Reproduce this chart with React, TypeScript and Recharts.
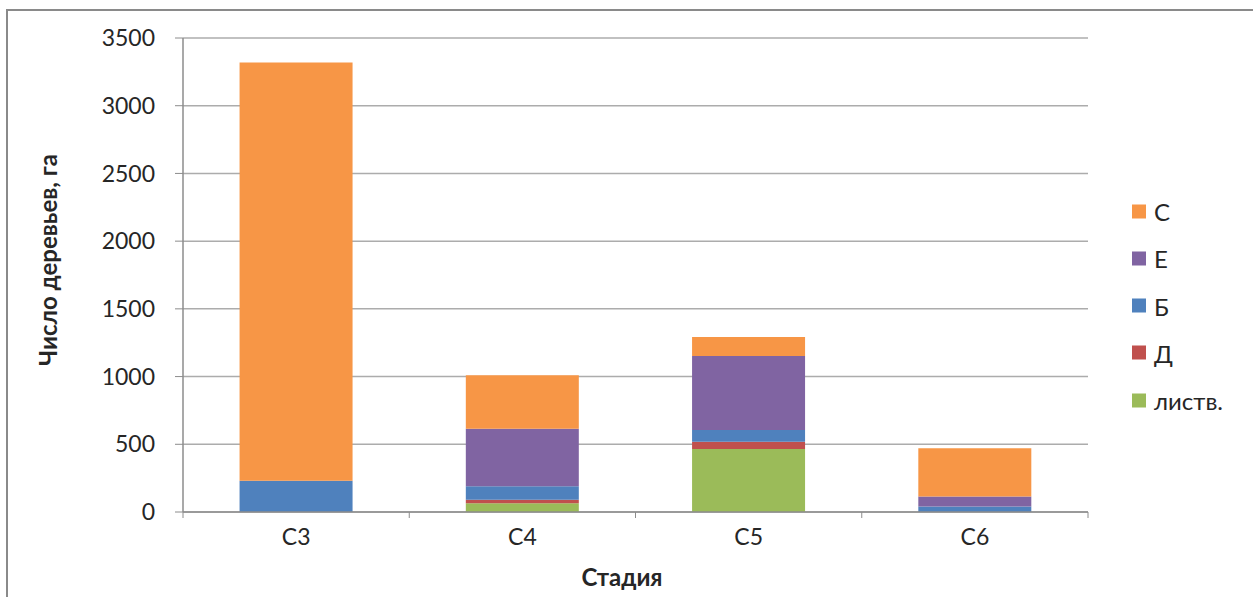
import React from 'react';
import { BarChart, Bar, XAxis, YAxis, CartesianGrid } from 'recharts';

const stages = ['С3', 'С4', 'С5', 'С6'];

// stacked from the bottom up
const listv = [0, 65, 465, 0];
const dub = [0, 25, 54, 0];
const bereza = [230, 100, 86, 40];
const el = [0, 425, 547, 75];
const sosna = [3090, 395, 140, 355];

const yTicks = [0, 500, 1000, 1500, 2000, 2500, 3000, 3500];

const series = [
  { key: 'listv', name: 'листв.', color: '#9BBB59' },
  { key: 'dub', name: 'Д', color: '#C0504D' },
  { key: 'bereza', name: 'Б', color: '#4F81BD' },
  { key: 'el', name: 'Е', color: '#8064A2' },
  { key: 'sosna', name: 'С', color: '#F79646' },
];

const data = stages.map((stage, i) => ({
  stage,
  listv: listv[i],
  dub: dub[i],
  bereza: bereza[i],
  el: el[i],
  sosna: sosna[i],
}));

const W = 1253;
const H = 597;
const PLOT_LEFT = 183;
const PLOT_RIGHT = 1088;
const PLOT_TOP = 38;
const PLOT_BOTTOM = 512;
const BAND = (PLOT_RIGHT - PLOT_LEFT) / stages.length;

const FONT = 'Lato, "Open Sans", sans-serif';
const TEXT = '#262626';
const AXIS = '#8c8c8c';

// category label plus Excel-style tick marks on the band edges
const StageTick = (props: any) => {
  const { x, y, payload, index } = props;
  const left = x - BAND / 2;
  return (
    <g>
      <line x1={left} y1={PLOT_BOTTOM} x2={left} y2={PLOT_BOTTOM + 6} stroke={AXIS} />
      {index === stages.length - 1 && (
        <line x1={x + BAND / 2} y1={PLOT_BOTTOM} x2={x + BAND / 2} y2={PLOT_BOTTOM + 6} stroke={AXIS} />
      )}
      <text x={x} y={y + 25} textAnchor="middle" fill={TEXT} fontSize={23} fontFamily={FONT}>
        {payload.value}
      </text>
    </g>
  );
};

export default function App() {
  const legendItems = [...series].reverse();
  return (
    <div style={{ position: 'absolute', left: 0, top: 0, width: W, height: H, background: '#fff', overflow: 'hidden' }}>
      <div
        style={{
          position: 'absolute',
          left: 6,
          top: 9,
          width: W,
          height: H,
          border: '2px solid #8a8a8a',
          boxSizing: 'border-box',
        }}
      />
      <div style={{ position: 'absolute', left: 0, top: 0 }}>
        <BarChart
          width={W}
          height={H}
          data={data}
          margin={{ top: PLOT_TOP, right: W - PLOT_RIGHT, left: 0, bottom: 0 }}
          barCategoryGap="25%"
        >
          <CartesianGrid vertical={false} stroke="#acacac" strokeWidth={1.5} />
          <XAxis
            dataKey="stage"
            height={H - PLOT_BOTTOM}
            tickLine={false}
            axisLine={{ stroke: AXIS, strokeWidth: 1.5 }}
            tick={<StageTick />}
            interval={0}
          />
          <YAxis
            width={PLOT_LEFT}
            domain={[0, 3500]}
            ticks={yTicks}
            tickSize={8}
            tickMargin={20}
            tickLine={{ stroke: AXIS }}
            axisLine={{ stroke: AXIS, strokeWidth: 1.5 }}
            tick={{ fill: TEXT, fontSize: 23, fontFamily: FONT }}
          />
          {series.map((s) => (
            <Bar key={s.key} dataKey={s.key} name={s.name} stackId="a" fill={s.color} isAnimationActive={false} />
          ))}
        </BarChart>
      </div>
      <div
        style={{
          position: 'absolute',
          left: 47,
          top: 260,
          transform: 'translate(-50%, -50%) rotate(-90deg)',
          whiteSpace: 'nowrap',
          fontFamily: FONT,
          fontWeight: 700,
          fontSize: 24,
          color: TEXT,
        }}
      >
        Число деревьев, га
      </div>
      <div
        style={{
          position: 'absolute',
          left: 622,
          top: 576,
          transform: 'translate(-50%, -50%)',
          whiteSpace: 'nowrap',
          fontFamily: FONT,
          fontWeight: 700,
          fontSize: 24,
          color: TEXT,
        }}
      >
        Стадия
      </div>
      {legendItems.map((s, i) => (
        <div
          key={s.key}
          style={{
            position: 'absolute',
            left: 1132,
            top: 211 + i * 47.3,
            transform: 'translateY(-50%)',
            display: 'flex',
            alignItems: 'center',
            fontFamily: FONT,
            fontSize: 24,
            color: TEXT,
          }}
        >
          <span style={{ width: 14, height: 14, background: s.color, marginRight: 8, display: 'inline-block' }} />
          {s.name}
        </div>
      ))}
    </div>
  );
}
